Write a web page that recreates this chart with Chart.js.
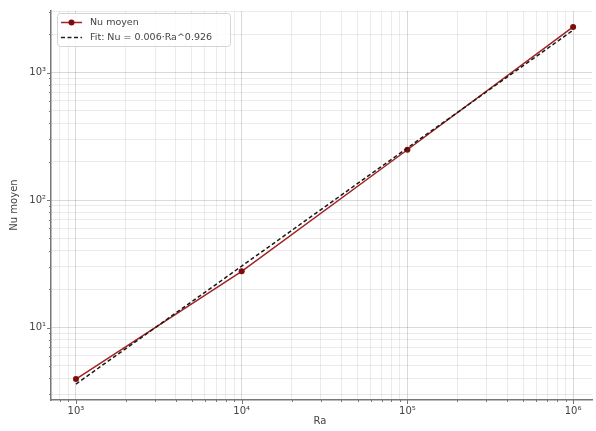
<!DOCTYPE html>
<html>
<head>
<meta charset="utf-8">
<script src="https://cdn.jsdelivr.net/npm/chart.js@4/dist/chart.umd.min.js"></script>
<style>
  html, body { margin: 0; padding: 0; background: #fff; }
  #wrap { width: 596px; height: 431px; }
</style>
</head>
<body>
<div id="wrap"><canvas id="nu-chart" width="596" height="431"></canvas></div>
<script>
// data
const raValues = [1e3, 1e4, 1e5, 1e6];
const nuValues = [3.94, 27.6, 248, 2280];
const fitValues = [3.6, 30.3, 256, 2150];

const xDecades = [1e3, 1e4, 1e5, 1e6];
const xDecadeLabels = ["10³", "10⁴", "10⁵", "10⁶"];
const yDecades = [1e1, 1e2, 1e3];
const yDecadeLabels = ["10¹", "10²", "10³"];

const xMin = 707, xMax = 1.3e6;
const yMin = 2.7, yMax = 3040;

const FONT = "'DejaVu Sans', sans-serif";
const redLine = "#a32222";
const redDot = "#7d0d0d";

// 1..9 x 10^n grid ticks inside [lo, hi]
function logTicks(lo, hi) {
  const out = [];
  for (let e = Math.floor(Math.log10(lo)); e <= Math.ceil(Math.log10(hi)); e++) {
    for (let s = 1; s <= 9; s++) {
      const v = s * Math.pow(10, e);
      if (v >= lo && v <= hi) out.push(v);
    }
  }
  return out;
}

function isDecade(v) {
  const l = Math.log10(v);
  return Math.abs(l - Math.round(l)) < 1e-9;
}

function decadeLabel(v, decades, labels) {
  const i = decades.findIndex((d) => Math.abs(d - v) / d < 1e-9);
  return i >= 0 ? labels[i] : "";
}

const framePlugin = {
  id: "frame",
  afterDraw(chart) {
    const ctx = chart.ctx;
    const a = chart.chartArea;
    const xs = chart.scales.x;
    const ys = chart.scales.y;
    ctx.save();
    ctx.strokeStyle = "#777";
    ctx.lineWidth = 1;
    // small tick marks outside the frame
    xs.ticks.forEach((t) => {
      const px = Math.round(xs.getPixelForValue(t.value)) + 0.5;
      const len = isDecade(t.value) ? 4 : 2;
      ctx.beginPath();
      ctx.moveTo(px, a.bottom);
      ctx.lineTo(px, a.bottom + len);
      ctx.stroke();
    });
    ys.ticks.forEach((t) => {
      const py = Math.round(ys.getPixelForValue(t.value)) + 0.5;
      const len = isDecade(t.value) ? 4 : 2;
      ctx.beginPath();
      ctx.moveTo(a.left, py);
      ctx.lineTo(a.left - len, py);
      ctx.stroke();
    });

    // axis titles
    ctx.fillStyle = "#444";
    ctx.font = "10px " + FONT;
    ctx.textAlign = "center";
    ctx.textBaseline = "middle";
    ctx.fillText("Ra", 320, 421);
    ctx.translate(14, 205);
    ctx.rotate(-Math.PI / 2);
    ctx.fillText("Nu moyen", 0, 0);
    ctx.restore();

    // legend box inside the plot
    ctx.save();
    const bx = 57.5, by = 13.5, bw = 173, bh = 33;
    ctx.fillStyle = "rgba(255,255,255,0.85)";
    ctx.strokeStyle = "#d4d4d4";
    ctx.lineWidth = 1;
    ctx.beginPath();
    ctx.roundRect(bx, by, bw, bh, 3);
    ctx.fill();
    ctx.stroke();

    ctx.strokeStyle = redLine;
    ctx.lineWidth = 1.5;
    ctx.beginPath();
    ctx.moveTo(61, 22.5);
    ctx.lineTo(82, 22.5);
    ctx.stroke();
    ctx.fillStyle = redDot;
    ctx.beginPath();
    ctx.arc(71.5, 22.5, 3, 0, Math.PI * 2);
    ctx.fill();

    ctx.strokeStyle = "#222";
    ctx.setLineDash([4, 2.5]);
    ctx.beginPath();
    ctx.moveTo(61, 37.5);
    ctx.lineTo(82, 37.5);
    ctx.stroke();
    ctx.setLineDash([]);

    ctx.fillStyle = "#444";
    ctx.font = "9.5px " + FONT;
    ctx.textAlign = "left";
    ctx.textBaseline = "middle";
    ctx.fillText(chart.data.datasets[1].label, 90, 22.5);
    ctx.fillText(chart.data.datasets[0].label, 90, 37.5);
    ctx.restore();
  },
};

new Chart(document.getElementById("nu-chart"), {
  type: "line",
  data: {
    datasets: [
      {
        label: "Fit: Nu = 0.006·Ra^0.926",
        data: raValues.map((x, i) => ({ x: x, y: fitValues[i] })),
        borderColor: "#1a1a1a",
        borderWidth: 1.5,
        borderDash: [4, 2.5],
        pointRadius: 0,
        order: 0,
      },
      {
        label: "Nu moyen",
        data: raValues.map((x, i) => ({ x: x, y: nuValues[i] })),
        borderColor: redLine,
        borderWidth: 1.5,
        pointRadius: 3,
        pointBackgroundColor: redDot,
        pointBorderColor: redDot,
        pointBorderWidth: 0,
        order: 1,
      },
    ],
  },
  options: {
    responsive: false,
    animation: false,
    layout: { padding: { top: 3, right: 0, left: 0, bottom: 0 } },
    plugins: { legend: { display: false }, tooltip: { enabled: false } },
    scales: {
      x: {
        type: "logarithmic",
        min: xMin,
        max: xMax,
        afterBuildTicks: (scale) => {
          scale.ticks = logTicks(xMin, xMax).map((v) => ({ value: v }));
        },
        afterFit: (scale) => {
          scale.height = 31;
        },
        border: { color: "#777", width: 1.5 },
        grid: {
          drawTicks: false,
          color: (c) => (c.tick && isDecade(c.tick.value) ? "rgba(0,0,0,0.15)" : "rgba(0,0,0,0.08)"),
        },
        ticks: {
          autoSkip: false,
          maxRotation: 0,
          padding: 5,
          color: "#444",
          font: { family: FONT, size: 10 },
          callback: (v) => decadeLabel(v, xDecades, xDecadeLabels),
        },
      },
      y: {
        type: "logarithmic",
        min: yMin,
        max: yMax,
        afterBuildTicks: (scale) => {
          scale.ticks = logTicks(yMin, yMax).map((v) => ({ value: v }));
        },
        afterFit: (scale) => {
          scale.width = 51;
        },
        border: { color: "#777", width: 1.5 },
        grid: {
          drawTicks: false,
          color: (c) => (c.tick && isDecade(c.tick.value) ? "rgba(0,0,0,0.15)" : "rgba(0,0,0,0.08)"),
        },
        ticks: {
          autoSkip: false,
          padding: 5,
          color: "#444",
          font: { family: FONT, size: 10 },
          callback: (v) => decadeLabel(v, yDecades, yDecadeLabels),
        },
      },
    },
  },
  plugins: [framePlugin],
});
</script>
</body>
</html>
